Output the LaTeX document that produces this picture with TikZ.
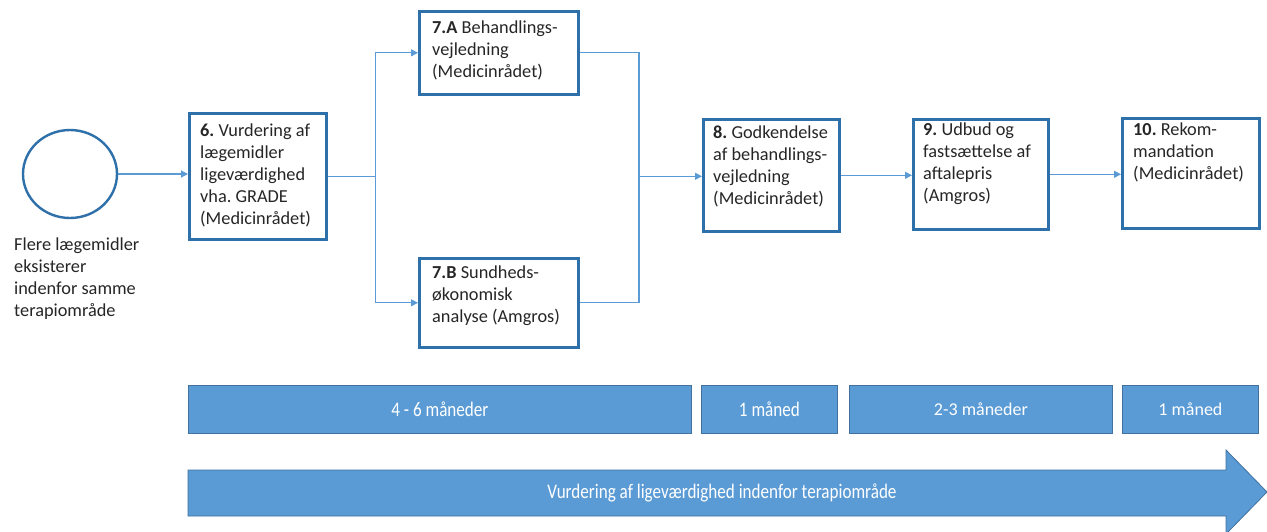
\documentclass[tikz,border=0pt]{standalone}
\usepackage{fontspec}
\setmainfont{Carlito}
\frenchspacing
\usetikzlibrary{arrows.meta,calc,shapes.geometric}
\definecolor{boxblue}{RGB}{46,112,170}
\definecolor{linkblue}{RGB}{91,155,213}
\definecolor{barfill}{RGB}{91,155,213}
\definecolor{barline}{RGB}{65,113,156}
\definecolor{txt}{RGB}{38,38,38}
\tikzset{
  stepbox/.style={draw=boxblue, line width=2.6pt, fill=white, rectangle, anchor=north west, inner sep=0pt},
  btxt/.style={anchor=north west, inner sep=0pt, align=left, text=txt,
    font=\fontsize{18.3}{21.8}\selectfont},
  conn/.style={draw=linkblue, line width=1.2pt},
  arr/.style={conn, -{Triangle[length=7pt,width=7pt]}},
  bar/.style={draw=barline, line width=0.8pt, fill=barfill, rectangle, anchor=north west, inner sep=0pt},
  bartxt/.style={text=white, inner sep=0pt, font=\fontsize{18}{21}\selectfont},
  startc/.style={draw=boxblue, line width=2.4pt, ellipse, fill=white, inner sep=0pt},
}
\begin{document}
\begin{tikzpicture}[x=1pt,y=-1pt]
\useasboundingbox (0,0) rectangle (1267,531);
\fill[white] (0,0) rectangle (1267,531);

% start circle
\node[startc, minimum width=94pt, minimum height=88pt] (c) at (70,174) {};
\node[btxt] (lab) at (14,238) {Flere lægemidler\\eksisterer\\indenfor samme\\terapiområde};

% boxes
\node[stepbox, minimum width=137pt, minimum height=126pt] (b6) at (188,112) {};
\node[btxt] (t6) at (200,124) {\textbf{6.} Vurdering af\\lægemidler\\ligeværdighed\\vha. GRADE\\(Medicinrådet)};

\node[stepbox, minimum width=159pt, minimum height=83pt] (b7a) at (418,10) {};
\node[btxt] (t7a) at (432,21) {\textbf{7.A} Behandlings-\\vejledning\\(Medicinrådet)};

\node[stepbox, minimum width=159pt, minimum height=89pt] (b7b) at (418,257) {};
\node[btxt] (t7b) at (432,266) {\textbf{7.B} Sundheds-\\økonomisk\\analyse (Amgros)};

\node[stepbox, minimum width=136pt, minimum height=112pt] (b8) at (702,118) {};
\node[btxt] (t8) at (713,126) {\textbf{8.} Godkendelse\\af behandlings-\\vejledning\\(Medicinrådet)};

\node[stepbox, minimum width=135pt, minimum height=110pt] (b9) at (912,118) {};
\node[btxt] (t9) at (923,123) {\textbf{9.} Udbud og\\fastsættelse af\\aftalepris\\(Amgros)};

\node[stepbox, minimum width=137pt, minimum height=110pt] (b10) at (1121,117) {};
\node[btxt] (t10) at (1133,123) {\textbf{10.} Rekom-\\mandation\\(Medicinrådet)};

% connectors
\coordinate (jl) at ($(b6.east)+(48,0)$);
\coordinate (jr) at (jl -| 639,0);
\draw[arr] (c.east) -- (c.east -| b6.west);
\draw[conn] (b6.east) -- (jl);
\draw[arr] (jl) |- (b7a.west);
\draw[arr] (jl) |- (b7b.west);
\draw[conn] (b7a.east) -| (jr) |- (b7b.east);
\draw[arr] (jr) -- (jr -| b8.west);
\draw[arr] (b8.east) -- (b8.east -| b9.west);
\draw[arr] (b9.east) -- (b9.east -| b10.west);

% duration bars
\node[bar, minimum width=503pt, minimum height=48pt] (d1) at (188,385) {};
\node[bartxt] (dt1) at (d1.center) {\scalebox{0.95}[1.15]{4 - 6 måneder}};
\node[bar, minimum width=136pt, minimum height=48pt] (d2) at (701,385) {};
\node[bartxt] (dt2) at (d2.center) {\scalebox{0.95}[1.15]{1 måned}};
\node[bar, minimum width=263pt, minimum height=48pt] (d3) at (849,385) {};
\node[bartxt] (dt3) at (d3.center) {2-3 måneder};
\node[bar, minimum width=136pt, minimum height=48pt] (d4) at (1122,385) {};
\node[bartxt] (dt4) at (d4.center) {1 måned};

% big arrow
\filldraw[fill=barfill, draw=barline, line width=0.8pt]
  (188,470) -- (1226,470) -- (1226,450) -- (1267,492) -- (1226,534) -- (1226,516) -- (188,516) -- cycle;
\node[bartxt] (bt) at (722,493) {\scalebox{0.95}[1.15]{Vurdering af ligeværdighed indenfor terapiområde}};
\end{tikzpicture}
\end{document}
